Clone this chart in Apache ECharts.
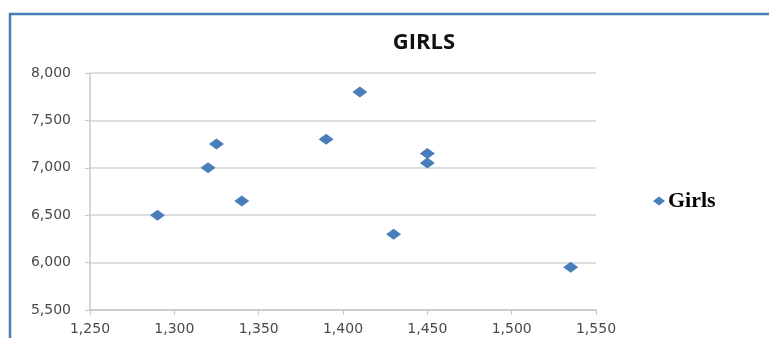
<!DOCTYPE html>
<html><head><meta charset="utf-8">
<script src="https://cdn.jsdelivr.net/npm/echarts@6/dist/echarts.min.js"></script>
<style>html,body{margin:0;padding:0;background:#fff}#c{width:769px;height:338px}</style>
</head><body><div id="c"></div>
<script>
const titleText = 'GIRLS';
const seriesName = 'Girls';
const xValues = [1290, 1320, 1325, 1340, 1390, 1410, 1450, 1450, 1430, 1535];
const yValues = [6500, 7000, 7250, 6650, 7300, 7800, 7150, 7050, 6300, 5950];
const xTicks = {min: 1250, max: 1550, interval: 50};
const yTicks = {min: 5500, max: 8000, interval: 500};

const data = xValues.map((x, i) => [x, yValues[i]]);
const fmt = v => v.toLocaleString('en-US');
const chart = echarts.init(document.getElementById('c'));
chart.setOption({
  animation: false,
  graphic: [{type: 'polyline', shape: {points: [[10, 340], [10, 14], [770, 14]]},
    style: {stroke: '#4a7ebb', lineWidth: 2.5, fill: null}}],
  title: {text: titleText, left: 419, top: 27, textAlign: 'center',
    textStyle: {fontFamily: 'Open Sans, Liberation Sans, sans-serif', fontSize: 22, fontWeight: 'bold', color: '#111'}},
  legend: {left: 648, top: 185, itemWidth: 12, itemHeight: 9, itemGap: 3,
    data: [{name: seriesName, icon: 'diamond'}],
    textStyle: {fontFamily: 'Liberation Serif, serif', fontSize: 22, fontWeight: 'bold', color: '#000', padding: [0,0,0,-2]}},
  grid: {left: 90, right: 173, top: 73, bottom: 28},
  xAxis: {type: 'value', min: xTicks.min, max: xTicks.max, interval: xTicks.interval,
    axisLine: {show: true, lineStyle: {color: '#c8c8c8', width: 1.5}},
    axisTick: {show: true, length: 5, lineStyle: {color: '#c8c8c8'}},
    splitLine: {show: false},
    axisLabel: {margin: 12, formatter: fmt, color: '#4a4a4a', fontSize: 14, fontFamily: 'DejaVu Sans, sans-serif'}},
  yAxis: {type: 'value', min: yTicks.min, max: yTicks.max, interval: yTicks.interval,
    axisLine: {show: true, lineStyle: {color: '#c8c8c8', width: 1.5}},
    axisTick: {show: true, length: 5, lineStyle: {color: '#c8c8c8'}},
    splitLine: {show: true, lineStyle: {color: '#d4d4d4', width: 1.5}},
    axisLabel: {margin: 19, formatter: fmt, color: '#4a4a4a', fontSize: 14, fontFamily: 'DejaVu Sans, sans-serif'}},
  series: [{name: seriesName, type: 'scatter', symbol: 'diamond', symbolSize: [15, 11],
    itemStyle: {color: '#4a7ebb', opacity: 1}, data: data}]
});
</script></body></html>
